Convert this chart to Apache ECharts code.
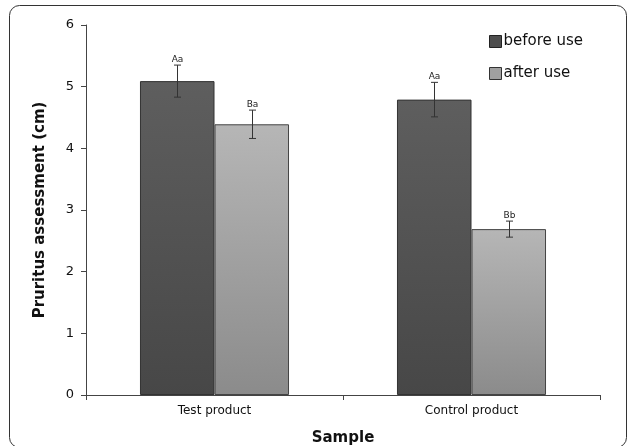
<!DOCTYPE html>
<html><head><meta charset="utf-8">
<script src="https://cdn.jsdelivr.net/npm/echarts@6/dist/echarts.min.js"></script>
<style>html,body{margin:0;padding:0;background:#fff}#c{width:630px;height:446px}</style>
</head><body><div id="c"></div>
<script>
var categories = ['Test product', 'Control product'];
var beforeUse = [5.09, 4.79];
var afterUse = [4.39, 2.69];
var beforeErr = [0.26, 0.28];
var afterErr = [0.23, 0.13];
var beforeLetters = ['Aa', 'Aa'];
var afterLetters = ['Ba', 'Bb'];
var yTicks = [0, 1, 2, 3, 4, 5, 6];

var FONT = '"DejaVu Sans", Verdana, sans-serif';
var BAR_FRAC = 0.29;
var darkFill = new echarts.graphic.LinearGradient(0, 0, 0, 1, [{offset: 0, color: '#5e5e5e'}, {offset: 1, color: '#474747'}]);
var lightFill = new echarts.graphic.LinearGradient(0, 0, 0, 1, [{offset: 0, color: '#b6b6b6'}, {offset: 1, color: '#8b8b8b'}]);

function errSeries(vals, errs, letters, side) {
  return {
    type: 'custom',
    silent: true,
    z: 5,
    data: vals.map(function (v, i) { return [i, v, errs[i]]; }),
    renderItem: function (params, api) {
      var i = api.value(0), v = api.value(1), e = api.value(2);
      var c = api.coord([i, v]);
      var bw = api.size([1, 0])[0] * BAR_FRAC;
      var x = Math.round(c[0] + side * bw / 2) + 0.5;
      var top = api.coord([i, v + e])[1];
      var bot = api.coord([i, v - e])[1];
      var cap = 3.5;
      var st = {stroke: '#333', lineWidth: 1};
      return {
        type: 'group',
        children: [
          {type: 'line', shape: {x1: x, y1: top, x2: x, y2: bot}, style: st},
          {type: 'line', shape: {x1: x - cap, y1: top, x2: x + cap, y2: top}, style: st},
          {type: 'line', shape: {x1: x - cap, y1: bot, x2: x + cap, y2: bot}, style: st},
          {type: 'text', style: {text: letters[params.dataIndex], x: x, y: top - 1, textAlign: 'center', textVerticalAlign: 'bottom', font: '9px ' + FONT, fill: '#222'}}
        ]
      };
    }
  };
}

var chart = echarts.init(document.getElementById('c'), null, {renderer: 'canvas'});
chart.setOption({
  animation: false,
  backgroundColor: '#fff',
  graphic: [{
    type: 'rect', left: 7, top: 3, shape: {width: 617, height: 442, r: 10},
    style: {fill: 'none', stroke: '#333', lineWidth: 1}, silent: true, z: -1
  }],
  grid: {left: 86, right: 30, top: 25, bottom: 51, outerBoundsMode: 'none', containLabel: false},
  legend: {
    orient: 'vertical', left: 484, top: 29, itemWidth: 12, itemHeight: 12, itemGap: 17,
    textStyle: {fontSize: 15, fontFamily: FONT, color: '#111', padding: [0, 0, 0, -3]},
    data: [
      {name: 'before use', icon: 'rect', itemStyle: {color: '#4e4e4e', borderColor: '#222', borderWidth: 1}},
      {name: 'after use', icon: 'rect', itemStyle: {color: '#a0a0a0', borderColor: '#333', borderWidth: 1}}
    ]
  },
  xAxis: {
    type: 'category', data: categories,
    name: 'Sample', nameLocation: 'middle', nameGap: 36,
    nameTextStyle: {fontSize: 15, fontWeight: 'bold', fontFamily: FONT, color: '#111'},
    axisLine: {lineStyle: {color: '#444', width: 1}},
    axisTick: {show: true, length: 5, lineStyle: {color: '#444'}},
    axisLabel: {fontSize: 12, fontFamily: FONT, color: '#111', margin: 10}
  },
  yAxis: {
    type: 'value', min: yTicks[0], max: yTicks[yTicks.length - 1], interval: 1,
    name: 'Pruritus assessment (cm)', nameLocation: 'middle', nameGap: 38,
    nameTextStyle: {fontSize: 15, fontWeight: 'bold', fontFamily: FONT, color: '#111'},
    axisLine: {show: true, lineStyle: {color: '#444', width: 1}},
    axisTick: {show: true, length: 5, lineStyle: {color: '#444'}},
    axisLabel: {fontSize: 13, fontFamily: FONT, color: '#111', margin: 12},
    splitLine: {show: false}
  },
  series: [
    {name: 'before use', type: 'bar', data: beforeUse, barWidth: (BAR_FRAC * 100) + '%', barGap: '0%',
     itemStyle: {color: darkFill, borderColor: '#333', borderWidth: 1}},
    {name: 'after use', type: 'bar', data: afterUse, barWidth: (BAR_FRAC * 100) + '%', barGap: '0%',
     itemStyle: {color: lightFill, borderColor: '#444', borderWidth: 1}},
    errSeries(beforeUse, beforeErr, beforeLetters, -1),
    errSeries(afterUse, afterErr, afterLetters, 1)
  ]
});
</script></body></html>
